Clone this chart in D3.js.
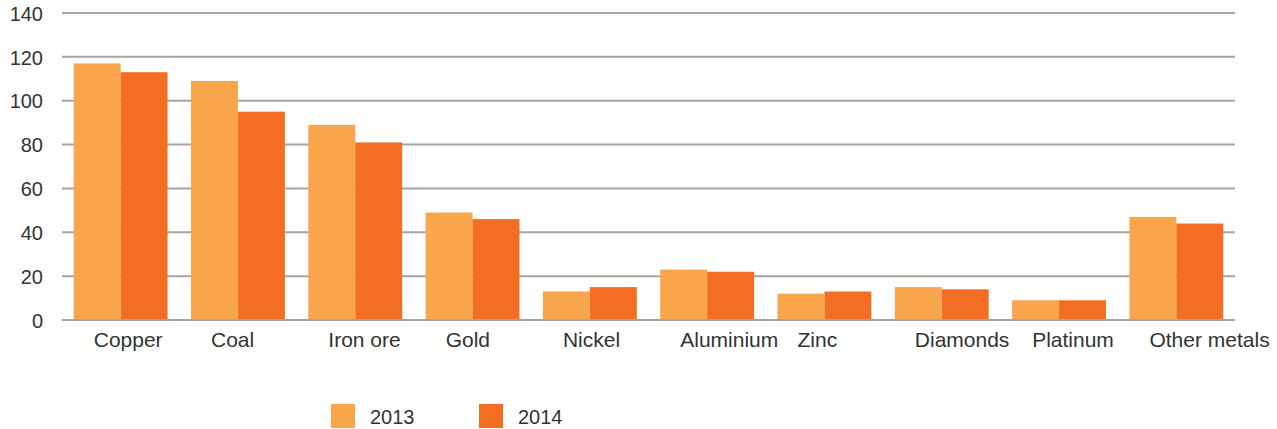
<!DOCTYPE html>
<html><head><meta charset="utf-8">
<script src="https://cdn.jsdelivr.net/npm/d3@7"></script>
<style>body{margin:0;background:#fff;} svg{display:block;} text{font-family:"Liberation Sans",Arial,Helvetica,sans-serif;fill:#333;}</style>
</head><body><svg id="c" width="1277" height="429"></svg>
<script>
const categories = ["Copper","Coal","Iron ore","Gold","Nickel","Aluminium","Zinc","Diamonds","Platinum","Other metals"];
const series = ["2013","2014"];
const values2013 = [117,109,89,49,13,23,12,15,9,47];
const values2014 = [113,95,81,46,15,22,13,14,9,44];
const yTicks = [0,20,40,60,80,100,120,140];
const colors = ["#F8A54B","#F36E22"];

(function(){
const svg = d3.select("#c");
const mLeft = 62, mRight = 1235, mTop = 13, mBottom = 320;
const x = d3.scaleBand().domain(categories).range([mLeft, mRight]).paddingInner(0.2).paddingOuter(0.1);
const xs = d3.scaleBand().domain(series).range([0, x.bandwidth()]);
const y = d3.scaleLinear().domain([0,140]).range([mBottom, mTop]);

// gridlines
svg.append("g").selectAll("line").data(yTicks).join("line")
  .attr("x1", mLeft).attr("x2", mRight)
  .attr("y1", d => y(d)).attr("y2", d => y(d))
  .attr("stroke", "#ABA29D").attr("stroke-width", 2);

// y tick labels
const yAxis = d3.axisLeft(y).tickValues(yTicks).tickSize(0).tickPadding(0);
const ga = svg.append("g").attr("transform", `translate(43,0)`).call(yAxis);
ga.select(".domain").remove();
ga.selectAll("text").attr("font-size", 20).attr("fill", "#333").attr("font-family", "Liberation Sans, Arial, sans-serif").attr("dy", "0.36em");

// bars
const data = categories.map((c,i) => ({c, v:[values2013[i], values2014[i]]}));
const grp = svg.append("g").selectAll("g").data(data).join("g")
  .attr("transform", d => `translate(${x(d.c)},0)`);
grp.selectAll("rect").data(d => d.v.map((v,j) => ({s:series[j], v, j}))).join("rect")
  .attr("x", d => xs(d.s)).attr("width", xs.bandwidth())
  .attr("y", d => y(d.v)).attr("height", d => y(0) - y(d.v))
  .attr("fill", d => colors[d.j]);

// baseline above bars
svg.append("line").attr("x1", mLeft).attr("x2", mRight).attr("y1", y(0)).attr("y2", y(0))
  .attr("stroke", "#ABA29D").attr("stroke-width", 2);

// category labels
svg.append("g").selectAll("text").data(categories).join("text")
  .attr("x", d => x(d) + 20).attr("y", 347)
  .attr("font-size", 21).text(d => d);

// legend
const lg = svg.append("g").selectAll("g").data(series).join("g")
  .attr("transform", (d,i) => `translate(${331 + i*148},404)`);
lg.append("rect").attr("width", 24).attr("height", 24).attr("fill", (d,i) => colors[i]);
lg.append("text").attr("x", 39).attr("y", 20).attr("font-size", 20).text(d => d);
})();
</script></body></html>
